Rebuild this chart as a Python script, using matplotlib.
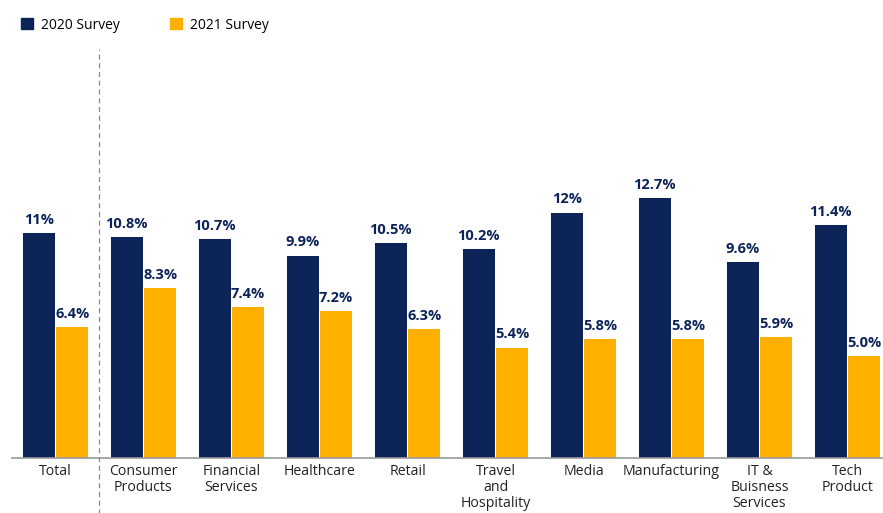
import matplotlib.pyplot as plt
from matplotlib.patches import Patch
import numpy as np

plt.rcParams['font.family'] = ['Open Sans', 'DejaVu Sans']

categories = ["Total", "Consumer\nProducts", "Financial\nServices", "Healthcare", "Retail",
              "Travel\nand\nHospitality", "Media", "Manufacturing", "IT &\nBuisness\nServices",
              "Tech\nProduct"]
survey_2020 = [11.0, 10.8, 10.7, 9.9, 10.5, 10.2, 12.0, 12.7, 9.6, 11.4]
survey_2021 = [6.4, 8.3, 7.4, 7.2, 6.3, 5.4, 5.8, 5.8, 5.9, 5.0]
labels_2020 = ["11%", "10.8%", "10.7%", "9.9%", "10.5%", "10.2%", "12%", "12.7%", "9.6%", "11.4%"]
labels_2021 = ["6.4%", "8.3%", "7.4%", "7.2%", "6.3%", "5.4%", "5.8%", "5.8%", "5.9%", "5.0%"]

navy = "#0c2358"
orange = "#ffb000"

fig = plt.figure(figsize=(8.83, 5.13), dpi=100)
ax = fig.add_axes([12 / 883, 55 / 513, 1 - 12 / 883, 409 / 513])

x = np.arange(len(categories))
w = 0.365
off = 0.19
b1 = ax.bar(x - off, survey_2020, w, color=navy, linewidth=0)
b2 = ax.bar(x + off, survey_2021, w, color=orange, linewidth=0)

for rect, lab in zip(b1, labels_2020):
    ax.text(rect.get_x() + rect.get_width() / 2, rect.get_height() + 0.3, lab,
            ha="center", va="bottom", fontsize=10.5, fontweight="bold", color=navy)
for rect, lab in zip(b2, labels_2021):
    ax.text(rect.get_x() + rect.get_width() / 2, rect.get_height() + 0.3, lab,
            ha="center", va="bottom", fontsize=10.5, fontweight="bold", color=navy)

ax.set_xlim(-0.494, 9.403)
ax.set_ylim(0, 20)
ax.set_xticks(x)
ax.set_xticklabels(categories, fontsize=10.2, color="#222222", linespacing=1.1)
ax.tick_params(axis="x", length=0, pad=4)
ax.set_yticks([])
for s in ["top", "right", "left"]:
    ax.spines[s].set_visible(False)
ax.spines["bottom"].set_color("#999999")
ax.spines["bottom"].set_linewidth(1.2)

# separator between Total and the industries
ax.axvline(0.5, ymin=-0.14, ymax=1.0, color="#888888", linestyle=(0, (4, 3)),
           linewidth=0.9, clip_on=False)

handles = [Patch(color=navy, label="2020 Survey"), Patch(color=orange, label="2021 Survey")]
fig.legend(handles=handles, loc="upper left", bbox_to_anchor=(0.01, 0.99), ncol=2,
           frameon=False, fontsize=10, handlelength=0.85, handleheight=0.85,
           columnspacing=3.6, handletextpad=0.6)

fig.savefig("out.png", dpi=100)
